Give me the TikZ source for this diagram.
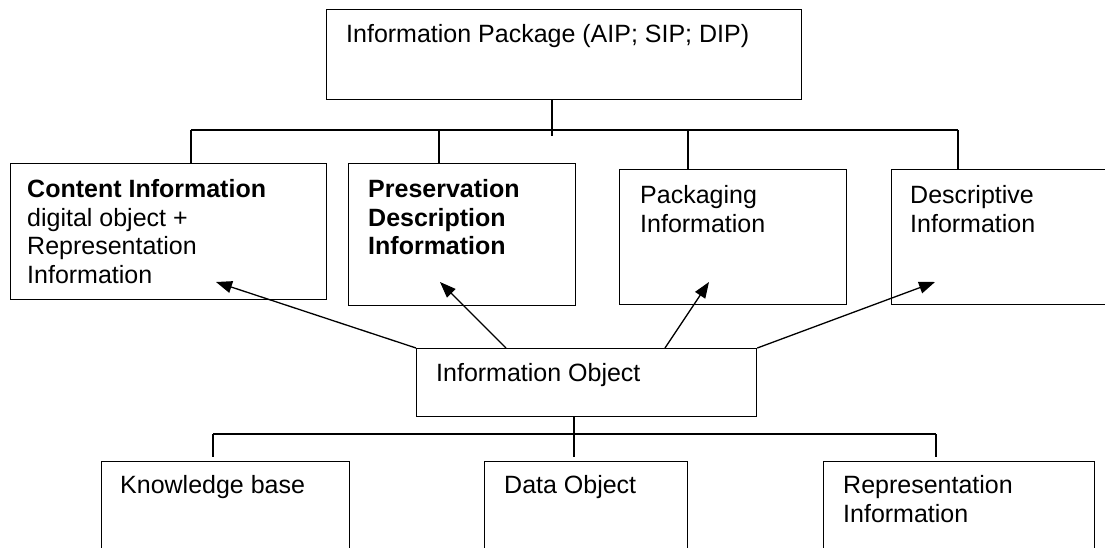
\documentclass[tikz,border=0pt]{standalone}
\usepackage{fontspec}
\setmainfont{Liberation Sans}
\usetikzlibrary{arrows.meta}

\begin{document}
\begin{tikzpicture}[x=1pt,y=-1pt,
  box/.style={draw, line width=1.3pt, inner sep=0pt, anchor=north west},
  txt/.style={anchor=north west, inner sep=0pt, align=left,
              font=\fontsize{25}{28.75}\selectfont},
  link/.style={line width=1.3pt},
  pointer/.style={line width=1.3pt, -{Triangle[length=16pt,width=12pt]}}
]
\useasboundingbox (0,0) rectangle (1105,548);
\clip (0,0) rectangle (1105,548);

% boxes
\node[box, minimum width=475pt, minimum height=90pt]  (pkg) at (326,9)   {};
\node[box, minimum width=316pt, minimum height=136pt] (ci)  at (10,163)  {};
\node[box, minimum width=227pt, minimum height=142pt] (pdi) at (348,163) {};
\node[box, minimum width=227pt, minimum height=135pt] (pi)  at (619,169) {};
\node[box, minimum width=240pt, minimum height=135pt] (di)  at (891,169) {};
\node[box, minimum width=340pt, minimum height=68pt]  (io)  at (416,348) {};
\node[box, minimum width=248pt, minimum height=110pt] (kb)  at (101,461) {};
\node[box, minimum width=203pt, minimum height=110pt] (do)  at (484,461) {};
\node[box, minimum width=271pt, minimum height=110pt] (ri)  at (823,461) {};

% texts
\node[txt] (pkg-t) at (346,24)  {Information Package (AIP; SIP; DIP)};
\node[txt] (ci-t)  at (27,179)  {\textbf{Content Information}\\digital object +\\Representation\\Information};
\node[txt] (pdi-t) at (368,179) {\textbf{Preservation}\\\textbf{Description}\\\textbf{Information}};
\node[txt] (pi-t)  at (640,185) {Packaging\\Information};
\node[txt] (di-t)  at (910,185) {Descriptive\\Information};
\node[txt] (io-t)  at (436,363) {Information Object};
\node[txt] (kb-t)  at (120,475) {Knowledge base};
\node[txt] (do-t)  at (504,475) {Data Object};
\node[txt] (ri-t)  at (843,475) {Representation\\Information};

% upper tree
\coordinate (tstem)  at (552,136);
\coordinate (tbusL)  at (191,130);
\coordinate (tdrop2) at (439,130);
\coordinate (tdrop3) at (688,130);
\coordinate (tbusR)  at (958,130);
\draw[link] (tstem |- pkg.south) -- (tstem);
\draw[link] (tbusL) -- (tbusR);
\draw[link] (tbusL) -- (tbusL |- ci.north);
\draw[link] (tdrop2) -- (tdrop2 |- pdi.north);
\draw[link] (tdrop3) -- (tdrop3 |- pi.north);
\draw[link] (tbusR) -- (tbusR |- di.north);

% lower tree
\coordinate (bstem) at (574,434);
\coordinate (bbusL) at (213,434);
\coordinate (bbusR) at (936,434);
\draw[link, shorten >=4pt] (bstem |- io.south) -- (bstem |- do.north);
\draw[link] (bbusL) -- (bbusR);
\draw[link, shorten >=4pt] (bbusL) -- (bbusL |- kb.north);
\draw[link, shorten >=4pt] (bbusR) -- (bbusR |- ri.north);

% arrows from the information object
\coordinate (ioB) at (506,348);
\coordinate (ioC) at (665,348);
\coordinate (ciTip)  at (216,282);
\coordinate (pdiTip) at (440,282);
\coordinate (piTip)  at (709,282);
\coordinate (diTip)  at (935,282);
\draw[pointer] (io.north west) -- (ciTip);
\draw[pointer] (ioB) -- (pdiTip);
\draw[pointer] (ioC) -- (piTip);
\draw[pointer] (io.north east) -- (diTip);
\end{tikzpicture}
\end{document}
